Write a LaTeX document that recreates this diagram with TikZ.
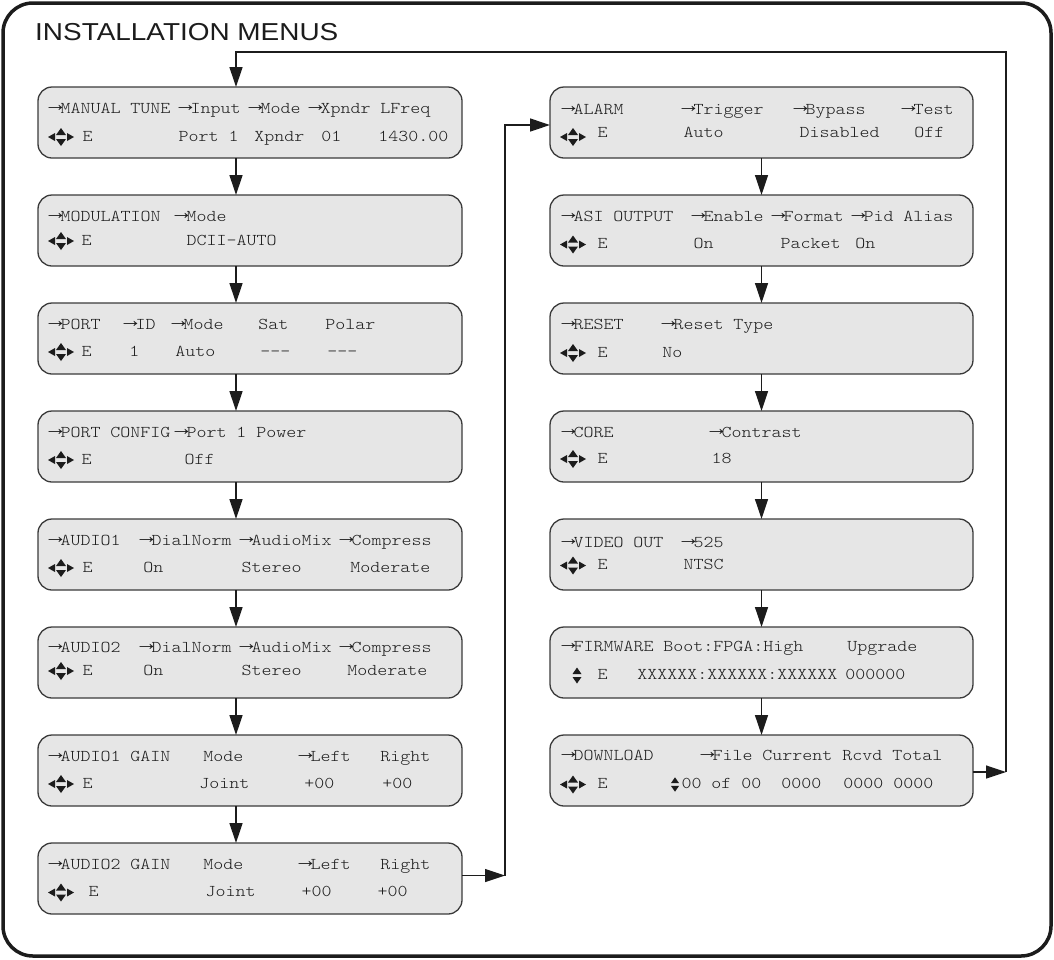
\documentclass[tikz,border=0pt]{standalone}
\usepackage{fontspec}
\setmainfont{Liberation Sans}
\setmonofont[FakeStretch=1.1544]{lmmonolt10-regular.otf}
\newfontfamily\arrowfont{Liberation Mono}
\usetikzlibrary{arrows.meta}

\definecolor{boxfill}{HTML}{E6E6E6}
\definecolor{boxline}{HTML}{3A3A3A}
\definecolor{ink}{HTML}{1C1C1C}

% one character cell of the display font
\newlength\cw
\setlength\cw{10pt}
% place text at a (fractional) character column of a display line
\newcommand\mc[2]{\makebox[0pt][l]{\hspace*{#1\cw}#2}}
\newcommand\menufont{\ttfamily\fontsize{16.5pt}{20pt}\selectfont}
\newcommand\dash{-{}-{}-}
% the small selection arrow, one cell wide
\newcommand\ra{\makebox[\cw][c]{\raisebox{1.6pt}{\arrowfont\scalebox{1.4}[1.3]{→}}}}

\tikzset{
  pics/navkeys/.style={code={
    \fill[ink] (-13,0) -- (-6,-4) -- (-6,4) -- cycle;
    \fill[ink] (13,0) -- (6,-4) -- (6,4) -- cycle;
    \fill[ink] (-5,-2) -- (5,-2) -- (0,-9) -- cycle;
    \fill[ink] (-5,2) -- (5,2) -- (0,9) -- cycle;
  }},
  pics/updown/.style={code={
    \fill[ink] (-4.5,-1.5) -- (4.5,-1.5) -- (0,-8) -- cycle;
    \fill[ink] (-4.5,1.5) -- (4.5,1.5) -- (0,8) -- cycle;
  }},
}

\begin{document}
\begin{tikzpicture}[x=1pt, y=-1pt,
  menubox/.style={draw=boxline, fill=boxfill, line width=1.3pt, rounded corners=14pt,
                  minimum height=71pt, inner sep=0pt, outer sep=0pt},
  leftbox/.style={menubox, minimum width=424pt},
  rightbox/.style={menubox, minimum width=423pt},
  mline/.style={anchor=base west, inner sep=0pt, outer sep=0pt, font=\menufont, text=ink},
  flow/.style={draw=ink, line width=1.3pt, -{Triangle[length=20pt, width=13pt]}},
]
\useasboundingbox (0,0) rectangle (1054,959);

% outer frame and heading
\draw[ink, line width=3.5pt, rounded corners=30pt] (3,3) rectangle (1051,956);
\node[anchor=base west, inner sep=0pt, text=ink, font=\fontsize{24.5pt}{28pt}\selectfont]
  (title) at (35,40) {\scalebox{1.14}[1]{INSTALLATION MENUS}};

% ---------------- left column ----------------
\node[leftbox] (mt)  at (250,122.5) {};
\node[leftbox] (mod) at (250,230.5) {};
\node[leftbox] (prt) at (250,338.5) {};
\node[leftbox] (pcf) at (250,446.5) {};
\node[leftbox] (au1) at (250,554.5) {};
\node[leftbox] (au2) at (250,662.5) {};
\node[leftbox] (ag1) at (250,770.5) {};
\node[leftbox] (ag2) at (250,878.5) {};

\node[mline] (mt-a) at ([shift={(12,26.5)}]mt.north west)
  {\mc{0}{\ra MANUAL TUNE \ra Input \ra Mode \ra Xpndr LFreq}};
\node[mline] (mt-b) at ([shift={(12,54)}]mt.north west)
  {\mc{3.2}{E}\mc{12.8}{Port 1}\mc{20.4}{Xpndr}\mc{27.1}{01}\mc{32.8}{1430.00}};
\pic at ([shift={(23,50)}]mt.north west) {navkeys};

\node[mline] (mod-a) at ([shift={(12,26.5)}]mod.north west)
  {\mc{0}{\ra MODULATION}\mc{12.6}{\ra Mode}};
\node[mline] (mod-b) at ([shift={(12,50)}]mod.north west)
  {\mc{3.1}{E}\mc{13.6}{DCII-AUTO}};
\pic at ([shift={(23,46)}]mod.north west) {navkeys};

\node[mline] (prt-a) at ([shift={(12,26.5)}]prt.north west)
  {\mc{0}{\ra PORT}\mc{7.5}{\ra ID}\mc{12.3}{\ra Mode}\mc{20.8}{Sat}\mc{27.5}{Polar}};
\node[mline] (prt-b) at ([shift={(12,53)}]prt.north west)
  {\mc{3.1}{E}\mc{7.9}{1}\mc{12.5}{Auto}\mc{21}{\dash}\mc{27.7}{\dash}};
\pic at ([shift={(23,49)}]prt.north west) {navkeys};

\node[mline] (pcf-a) at ([shift={(12,26.5)}]pcf.north west)
  {\mc{0}{\ra PORT CONFIG}\mc{12.6}{\ra Port 1 Power}};
\node[mline] (pcf-b) at ([shift={(12,53)}]pcf.north west)
  {\mc{3.1}{E}\mc{13.4}{Off}};
\pic at ([shift={(23,49)}]pcf.north west) {navkeys};

\node[mline] (au1-a) at ([shift={(12,26)}]au1.north west)
  {\mc{0}{\ra AUDIO1}\mc{9.1}{\ra DialNorm \ra AudioMix \ra Compress}};
\node[mline] (au1-b) at ([shift={(12,53)}]au1.north west)
  {\mc{3.2}{E}\mc{9.3}{On}\mc{19.1}{Stereo}\mc{30}{Moderate}};
\pic at ([shift={(23,49)}]au1.north west) {navkeys};

\node[mline] (au2-a) at ([shift={(12,25)}]au2.north west)
  {\mc{0}{\ra AUDIO2}\mc{9.1}{\ra DialNorm \ra AudioMix \ra Compress}};
\node[mline] (au2-b) at ([shift={(12,48)}]au2.north west)
  {\mc{3.2}{E}\mc{9.3}{On}\mc{19.1}{Stereo}\mc{29.7}{Moderate}};
\pic at ([shift={(23,44)}]au2.north west) {navkeys};

\node[mline] (ag1-a) at ([shift={(12,26.5)}]ag1.north west)
  {\mc{0}{\ra AUDIO1 GAIN}\mc{15.3}{Mode}\mc{25}{\ra Left}\mc{33}{Right}};
\node[mline] (ag1-b) at ([shift={(12,53)}]ag1.north west)
  {\mc{3.2}{E}\mc{14.9}{Joint}\mc{25.4}{+00}\mc{33.2}{+00}};
\pic at ([shift={(23,49)}]ag1.north west) {navkeys};

\node[mline] (ag2-a) at ([shift={(12,26.5)}]ag2.north west)
  {\mc{0}{\ra AUDIO2 GAIN}\mc{15.3}{Mode}\mc{25}{\ra Left}\mc{33}{Right}};
\node[mline] (ag2-b) at ([shift={(12,53.5)}]ag2.north west)
  {\mc{3.8}{E}\mc{15.5}{Joint}\mc{25.1}{+00}\mc{32.7}{+00}};
\pic at ([shift={(23,49.5)}]ag2.north west) {navkeys};

% ---------------- right column ----------------
\node[rightbox] (al)   at (761.5,122.5) {};
\node[rightbox] (asi)  at (761.5,230.5) {};
\node[rightbox] (rst)  at (761.5,338.5) {};
\node[rightbox] (core) at (761.5,446.5) {};
\node[rightbox] (vid)  at (761.5,554.5) {};
\node[rightbox] (fw)   at (761.5,662.5) {};
\node[rightbox] (dl)   at (761.5,770.5) {};

\node[mline] (al-a) at ([shift={(13,27.5)}]al.north west)
  {\mc{0}{\ra ALARM}\mc{12}{\ra Trigger}\mc{23.2}{\ra Bypass}\mc{34}{\ra Test}};
\node[mline] (al-b) at ([shift={(13,50.5)}]al.north west)
  {\mc{3.4}{E}\mc{12}{Auto}\mc{23.6}{Disabled}\mc{35.1}{Off}};
\pic at ([shift={(23,50)}]al.north west) {navkeys};

\node[mline] (asi-a) at ([shift={(13,26.5)}]asi.north west)
  {\mc{0}{\ra ASI OUTPUT}\mc{13}{\ra Enable \ra Format \ra Pid Alias}};
\node[mline] (asi-b) at ([shift={(13,53.5)}]asi.north west)
  {\mc{3.4}{E}\mc{13}{On}\mc{21.7}{Packet}\mc{29.2}{On}};
\pic at ([shift={(23,49.5)}]asi.north west) {navkeys};

\node[mline] (rst-a) at ([shift={(13,26.5)}]rst.north west)
  {\mc{0}{\ra RESET}\mc{10}{\ra Reset Type}};
\node[mline] (rst-b) at ([shift={(13,54)}]rst.north west)
  {\mc{3.4}{E}\mc{9.9}{No}};
\pic at ([shift={(23,50)}]rst.north west) {navkeys};

\node[mline] (core-a) at ([shift={(13,26.5)}]core.north west)
  {\mc{0}{\ra CORE}\mc{14.8}{\ra Contrast}};
\node[mline] (core-b) at ([shift={(13,52)}]core.north west)
  {\mc{3.4}{E}\mc{14.8}{18}};
\pic at ([shift={(23,48)}]core.north west) {navkeys};

\node[mline] (vid-a) at ([shift={(13,28)}]vid.north west)
  {\mc{0}{\ra VIDEO OUT}\mc{12}{\ra 525}};
\node[mline] (vid-b) at ([shift={(13,50.5)}]vid.north west)
  {\mc{3.4}{E}\mc{12}{NTSC}};
\pic at ([shift={(23,46.5)}]vid.north west) {navkeys};

\node[mline] (fw-a) at ([shift={(13,24.5)}]fw.north west)
  {\mc{0}{\ra FIRMWARE Boot:FPGA:High}\mc{28.4}{Upgrade}};
\node[mline] (fw-b) at ([shift={(13,52.5)}]fw.north west)
  {\mc{3.4}{E}\mc{7.4}{XXXXXX:XXXXXX:XXXXXX}\mc{28.2}{000000}};
\pic at ([shift={(27,48.5)}]fw.north west) {updown};

\node[mline] (dl-a) at ([shift={(13,25.5)}]dl.north west)
  {\mc{0}{\ra DOWNLOAD}\mc{13.9}{\ra File Current Rcvd Total}};
\node[mline] (dl-b) at ([shift={(13,53.5)}]dl.north west)
  {\mc{3.4}{E}\mc{11.8}{00 of 00}\mc{21.8}{0000}\mc{28}{0000 0000}};
\pic at ([shift={(23,49.5)}]dl.north west) {navkeys};
\pic[scale=0.9] at ([shift={(125,49.5)}]dl.north west) {updown};

% ---------------- connectors ----------------
\foreach \a/\b in {mt/mod, mod/prt, prt/pcf, pcf/au1, au1/au2, au2/ag1, ag1/ag2}
  \draw[flow] ([xshift=-14pt]\a.south) -- ([xshift=-14pt]\b.north);
\foreach \a/\b in {al/asi, asi/rst, rst/core, core/vid, vid/fw, fw/dl}
  \draw[flow] (\a.south) -- (\b.north);

% from the last left menu over to the top of the right column
\coordinate (gainout) at ([shift={(43,-3)}]ag2.east);
\draw[flow] ([shift={(0,-3)}]ag2.east) -- (gainout);
\draw[flow] (gainout) |- ([shift={(0,2.5)}]al.west);

% from the last right menu back round to the first menu
\coordinate (dlout) at ([shift={(33,1.5)}]dl.east);
\coordinate (topline) at (0,52);
\draw[flow] ([shift={(0,1.5)}]dl.east) -- (dlout);
\draw[flow] (dlout) -- (dlout |- topline) -| ([xshift=-14pt]mt.north);
\end{tikzpicture}
\end{document}
